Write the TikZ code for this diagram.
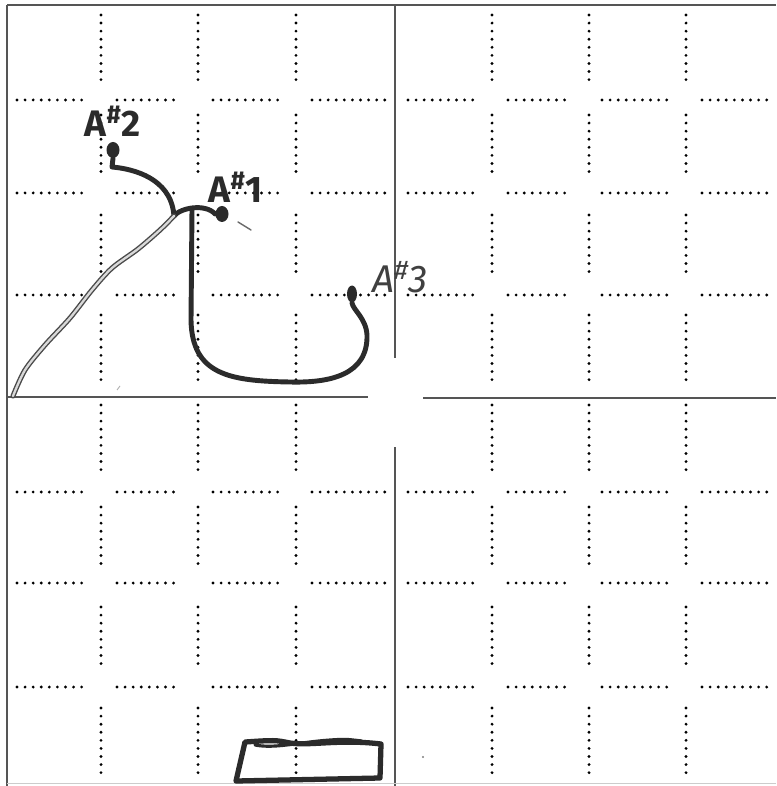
\documentclass[tikz,border=0pt]{standalone}
\usepackage{fontspec}
\setsansfont{Fira Sans}
\usetikzlibrary{shapes.geometric}
\definecolor{ink}{HTML}{2B2B2B}
\definecolor{framec}{HTML}{555555}
\begin{document}
\begin{tikzpicture}[x=0.02cm,y=-0.02cm,
  frameline/.style={draw=framec, line width=0.7pt},
  dotline/.style={draw=black, line width=1.8pt, line cap=round, dash pattern=on 0pt off 4.6pt},
  inkline/.style={draw=ink, line width=2.8pt, line cap=round, line join=round},
  inkdouble/.style={draw=ink!85, line width=0.8pt, double=white!85!black, double distance=1.3pt, line cap=round},
  blob/.style={ellipse, fill=ink, inner sep=0pt},
  lbl/.style={font=\sffamily\bfseries\fontsize{21}{21}\selectfont, text=ink, inner sep=0pt},
]
\useasboundingbox (0,0) rectangle (776,786);
\fill[white] (0,0) rectangle (776,786);
% frame
\draw[frameline] (7,5) -- (776,5);
\draw[frameline] (7,5) -- (7,786);
\draw[frameline] (395,5) -- (395,358);
\draw[frameline] (395,447) -- (395,786);
\draw[frameline] (7,397) -- (368,397);
\draw[frameline] (423,398) -- (776,398);
\draw[draw=black!20, line width=0.5pt] (7,783) -- (776,783);
% dotted grid
\foreach \x in {101,198,296,492,589,686}{
  \foreach \a/\b in {15/82,115/177,215/277,315/387,405/473,507/565,607/667,708/777}
    \draw[dotline] (\x,\a) -- (\x,\b);
}
\foreach \y in {100,193,295,492,583,687}{
  \foreach \a/\b in {17/84,117/180,213/280,312/386,408/477,508/572,602/672,702/773}
    \draw[dotline] (\a,\y) -- (\b,\y);
}
% blobs and labels
\node[blob, minimum width=0.26cm, minimum height=0.32cm] (a2) at (113,150) {};
\node[blob, minimum width=0.26cm, minimum height=0.32cm] (a1) at (222,214) {};
\node[blob, minimum width=0.2cm, minimum height=0.34cm] (a3) at (352,294) {};
\node[lbl] (l2) at (113,121) {A\textsuperscript{\#}2};
\node[lbl] (l1) at (236,187) {A\textsuperscript{\#}1};
\node[lbl, font=\sffamily\itshape\fontsize{22}{22}\selectfont, text=ink!90] (l3) at (400,277) {A\textsuperscript{\#}3};
% connectors
\coordinate (j) at (174,216);
\coordinate (t) at (192,209);
\coordinate (c) at (13,396);
\draw[inkline] (a2.south) -- (112,167) .. controls (145,170) and (172,185) .. (j);
\draw[inkline] (j) .. controls (180,208) and (205,203) .. (a1.west);
\draw[inkline] (t) -- (191,320) .. controls (192,375) and (230,381) .. (290,382)
  .. controls (330,383) and (368,375) .. (367,335)
  .. controls (366,318) and (353,310) .. (a3.south);
\draw[inkdouble] plot[smooth] coordinates {(j) (160,230) (138,249) (112,268) (92,290) (70,318) (45,345) (25,370) (c)};
% stray marks
\draw[ink!70, line width=0.8pt, line cap=round] (238,222) .. controls (244,226) .. (251,230);
\fill[ink!60] (423,757) circle (1.2);
\draw[ink!40, line width=0.5pt] (117,390) -- (120,386);
% bottom box
\draw[inkline, line width=3pt] (381,744) .. controls (340,739) and (310,746) .. (290,743)
  .. controls (275,740) .. (245,742) -- (236,781) -- (380,778) -- cycle;
\draw[inkline, line width=1.8pt] (255,745) .. controls (275,749) and (300,742) .. (330,740) .. controls (345,739) .. (362,741);
\end{tikzpicture}
\end{document}
